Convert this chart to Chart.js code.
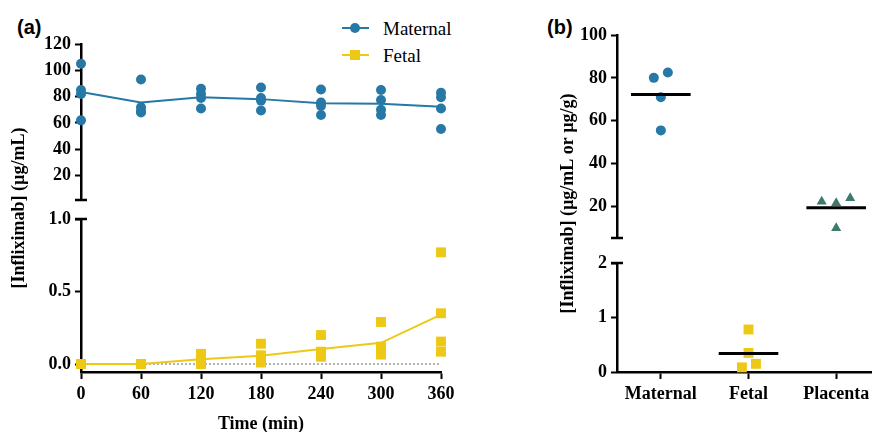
<!DOCTYPE html>
<html>
<head>
<meta charset="utf-8">
<script src="https://cdn.jsdelivr.net/npm/chart.js@4.4.1/dist/chart.umd.min.js"></script>
<style>
  html, body { margin: 0; padding: 0; background: #fff; overflow: hidden; }
  canvas { position: absolute; top: 0; }
  #chartA { left: 0; }
  #chartB { left: 530px; }
  .panel { position: absolute; font: bold 20px "Liberation Sans", sans-serif; color: #000; }
  #legend { position: absolute; left: 342px; top: 15px; font: 19px "Liberation Serif", serif; color: #000; }
  #legend .row { height: 27px; line-height: 27px; white-space: nowrap; }
  #legend .key { display: inline-block; position: relative; width: 27px; height: 27px; vertical-align: top; margin-right: 14px; }
  #legend .ln { position: absolute; left: 0; top: 12px; width: 27px; height: 2px; }
  #legend .mk { position: absolute; left: 8px; top: 8px; width: 10px; height: 10px; }
</style>
</head>
<body>
<div class="panel" style="left:17px;top:16px">(a)</div>
<div class="panel" style="left:547px;top:16px">(b)</div>
<div id="legend"></div>
<canvas id="chartA" width="470" height="432"></canvas>
<canvas id="chartB" width="360" height="432"></canvas>
<script>
// panel (a): time course, 4 subjects per time point
const TIMES = [0, 60, 120, 180, 240, 300, 360];
const MATERNAL_A = [
  [105, 85, 82, 62],
  [93, 72, 69, 68],
  [86, 82, 79, 71],
  [87, 79, 77, 69.5],
  [85.5, 75.5, 73, 66],
  [85, 77.5, 70, 66],
  [83, 79.5, 71, 55.5]
];
const FETAL_A = [
  [0, 0, 0, 0],
  [0, 0, 0, 0],
  [0.07, 0.04, 0.02, 0],
  [0.14, 0.06, 0.02, 0.01],
  [0.2, 0.085, 0.08, 0.05],
  [0.29, 0.12, 0.11, 0.065],
  [0.77, 0.35, 0.155, 0.085]
];
const TICKS_A_HIGH = [20, 40, 60, 80, 100, 120];
const TICKS_A_LOW = [0, 0.5, 1.0];

// panel (b): compartments at end of perfusion
const CATEGORIES = ['Maternal', 'Fetal', 'Placenta'];
const MATERNAL_B = [80, 82.5, 71, 55.5];
const FETAL_B = [0.78, 0.35, 0.085, 0.15];
const PLACENTA_B = [22.3, 21.6, 23.9, 9.9];
const TICKS_B_HIGH = [20, 40, 60, 80, 100];
const TICKS_B_LOW = [0, 1, 2];

const BLUE = '#2679a6';
const YELLOW = '#edc916';
const TEAL = '#3e7a6c';

Chart.defaults.font.family = "'Liberation Serif', serif";
Chart.defaults.font.size = 18;
Chart.defaults.font.weight = 'bold';
Chart.defaults.color = '#000';

const mean = a => a.reduce((s, v) => s + v, 0) / a.length;
const pts = (groups, xs) => groups.flatMap((g, i) => g.map(v => ({x: xs[i], y: v})));
const setTicks = list => s => { s.ticks = list.map(v => ({value: v})); };

// broken axis marks, zero line and y title
const decor = {
  id: 'decor',
  beforeDatasetsDraw(chart, args, opts) {
    const {ctx, chartArea} = chart;
    const x = chartArea.left;
    ctx.save();
    if (opts.zeroLine) {
      const y0 = chart.scales.yLow.getPixelForValue(0);
      ctx.strokeStyle = '#666';
      ctx.lineWidth = 1;
      ctx.setLineDash([2, 2]);
      ctx.beginPath();
      ctx.moveTo(chartArea.left, y0);
      ctx.lineTo(chartArea.right, y0);
      ctx.stroke();
      ctx.setLineDash([]);
    }
    ctx.strokeStyle = '#000';
    ctx.lineWidth = 2.5;
    [chart.scales.yHigh.bottom, chart.scales.yLow.top].forEach(y => {
      ctx.beginPath();
      ctx.moveTo(x - 6, y);
      ctx.lineTo(x + 6, y);
      ctx.stroke();
    });
    ctx.translate(x - opts.titleOffset, (chartArea.top + chartArea.bottom) / 2);
    ctx.rotate(-Math.PI / 2);
    ctx.font = "bold 18px 'Liberation Serif', serif";
    ctx.fillStyle = '#000';
    ctx.textAlign = 'center';
    ctx.textBaseline = 'middle';
    ctx.fillText(opts.title, 0, 0);
    ctx.restore();
  }
};

function yAxes(width, high, gap, low) {
  const common = {
    type: 'linear',
    position: 'left',
    stack: 'y',
    afterFit: s => { s.width = width; },
    border: {color: '#000', width: 2.5},
    grid: {drawOnChartArea: false, drawTicks: true, tickLength: 6, tickColor: '#000', tickWidth: 2},
    ticks: {padding: 4, autoSkip: false}
  };
  return {
    yHigh: {...common, weight: 3, stackWeight: high.weight, min: high.min, max: high.max,
      afterBuildTicks: setTicks(high.ticks)},
    yGap: {...common, weight: 2, stackWeight: gap, min: 0, max: 1,
      border: {display: false}, grid: {display: false}, ticks: {display: false}},
    yLow: {...common, weight: 1, stackWeight: low.weight, min: low.min, max: low.max,
      afterBuildTicks: setTicks(low.ticks),
      ticks: {padding: 4, autoSkip: false, callback: low.format}}
  };
}

const xAxis = {
  type: 'linear',
  position: 'bottom',
  afterFit: s => { s.height = 60; },
  border: {color: '#000', width: 2.5},
  grid: {drawOnChartArea: false, drawTicks: true, tickLength: 7, tickColor: '#000', tickWidth: 2},
  ticks: {padding: 5, autoSkip: false}
};

// ---- panel (a) ----
new Chart(document.getElementById('chartA'), {
  type: 'scatter',
  data: {
    datasets: [
      {label: 'Maternal', data: TIMES.map((t, i) => ({x: t, y: mean(MATERNAL_A[i])})), yAxisID: 'yHigh',
        showLine: true, borderColor: BLUE, borderWidth: 2, pointRadius: 0, order: 2, clip: false},
      {label: 'Maternal', data: pts(MATERNAL_A, TIMES), yAxisID: 'yHigh',
        pointBackgroundColor: BLUE, pointBorderWidth: 0, pointRadius: 5, order: 1, clip: false},
      {label: 'Fetal', data: TIMES.map((t, i) => ({x: t, y: mean(FETAL_A[i])})), yAxisID: 'yLow',
        showLine: true, borderColor: YELLOW, borderWidth: 2, pointRadius: 0, order: 2, clip: false},
      {label: 'Fetal', data: pts(FETAL_A, TIMES), yAxisID: 'yLow', pointStyle: 'rect',
        pointBackgroundColor: YELLOW, pointBorderWidth: 0, pointRadius: 7, order: 1, clip: false}
    ]
  },
  options: {
    responsive: false,
    animation: false,
    layout: {padding: {top: 44, right: 29, left: 0, bottom: 0}},
    plugins: {
      legend: {display: false},
      tooltip: {enabled: false},
      decor: {zeroLine: true, titleOffset: 62, title: '[Infliximab] (\u00b5g/mL)'}
    },
    scales: {
      x: {...xAxis, min: 0, max: 360, afterBuildTicks: setTicks(TIMES),
        title: {display: true, text: 'Time (min)', padding: {top: 0, bottom: -3}}},
      ...yAxes(81,
        {weight: 156, min: 1.5, max: 120, ticks: TICKS_A_HIGH},
        19,
        {weight: 153, min: -0.055, max: 1.0, ticks: TICKS_A_LOW, format: v => v.toFixed(1)})
    }
  },
  plugins: [decor]
});

// legend for panel (a)
[['Maternal', BLUE, '50%'], ['Fetal', YELLOW, '0']].forEach(([name, color, radius]) => {
  const row = document.createElement('div');
  row.className = 'row';
  row.innerHTML = `<span class="key"><i class="ln" style="background:${color}"></i>` +
    `<i class="mk" style="background:${color};border-radius:${radius}"></i></span>${name}`;
  document.getElementById('legend').appendChild(row);
});

// ---- panel (b) ----
const HALF = 0.34;
const groupsB = [
  {values: MATERNAL_B, spread: [-0.08, 0.08, 0, 0], color: BLUE, style: 'circle', r: 5, axis: 'yHigh'},
  {values: FETAL_B, spread: [0, 0, -0.075, 0.085], color: YELLOW, style: 'rect', r: 7, axis: 'yLow'},
  {values: PLACENTA_B, spread: [-0.165, 0, 0.16, 0], color: TEAL, style: 'triangle', r: 5.8, axis: 'yHigh'}
];
const datasetsB = [];
groupsB.forEach((g, i) => {
  const m = mean(g.values);
  datasetsB.push({label: CATEGORIES[i], data: [{x: i - HALF, y: m}, {x: i + HALF, y: m}], yAxisID: g.axis,
    showLine: true, borderColor: '#000', borderWidth: 3, pointRadius: 0, order: 1, clip: false});
  datasetsB.push({label: CATEGORIES[i], data: g.values.map((v, k) => ({x: i + g.spread[k], y: v})),
    yAxisID: g.axis, pointStyle: g.style, pointRadius: g.r,
    pointBackgroundColor: g.color, pointBorderWidth: 0, order: 2, clip: false});
});

new Chart(document.getElementById('chartB'), {
  type: 'scatter',
  data: {datasets: datasetsB},
  options: {
    responsive: false,
    animation: false,
    layout: {padding: {top: 35, right: 10, left: 0, bottom: 0}},
    plugins: {
      legend: {display: false},
      tooltip: {enabled: false},
      decor: {zeroLine: false, titleOffset: 49, title: '[Infliximab] (\u00b5g/mL or \u00b5g/g)'}
    },
    scales: {
      x: {...xAxis, min: -0.5, max: 2.5, afterBuildTicks: setTicks(CATEGORIES.map((c, i) => i)),
        ticks: {padding: 5, autoSkip: false, callback: v => CATEGORIES[v]}},
      ...yAxes(87,
        {weight: 203, min: 5.3, max: 100, ticks: TICKS_B_HIGH},
        25,
        {weight: 109, min: 0, max: 2, ticks: TICKS_B_LOW, format: v => String(v)})
    }
  },
  plugins: [decor]
});
</script>
</body>
</html>
